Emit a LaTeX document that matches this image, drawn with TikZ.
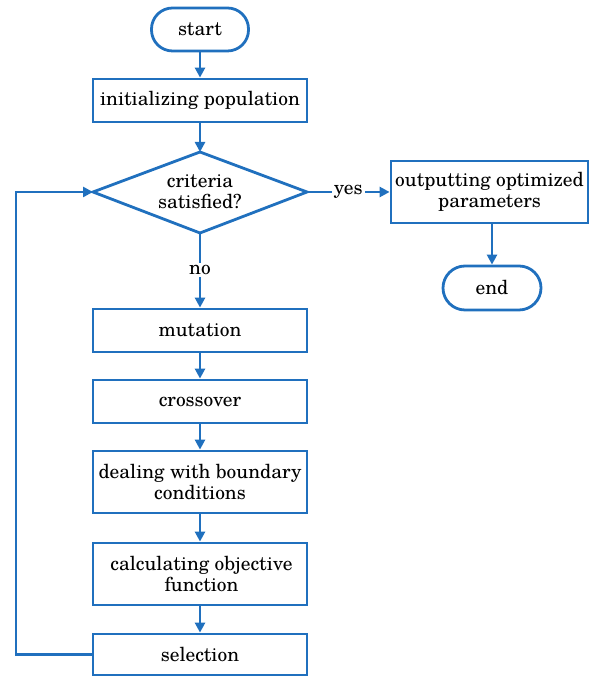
\documentclass[tikz,border=0pt]{standalone}
\usepackage{fontspec}
\setmainfont{TeX Gyre Schola}
\usetikzlibrary{arrows.meta}
\definecolor{lineblue}{RGB}{32,112,190}
\begin{document}
\begin{tikzpicture}[x=1pt,y=1pt,
  every node/.style={font=\fontsize{19.4}{21}\selectfont, text=black, align=center, inner sep=0pt},
  box/.style={draw=lineblue, line width=2.8pt, rectangle, minimum width=214pt},
  pill/.style={draw=lineblue, line width=2.8pt, rectangle, rounded corners=21pt, minimum height=43pt},
  decision/.style={draw=lineblue, line width=2.8pt, line join=miter},
  conn/.style={draw=lineblue, line width=2.8pt, line join=miter, -{Triangle[length=10pt,width=10pt]}},
  lbl/.style={fill=white, inner sep=2pt}]
\useasboundingbox (0,0) rectangle (595,676);
% nodes (y = 676 - pixel y)
\node[pill, minimum width=97pt] (start) at (200,646.5) {start};
\node[box, minimum height=43pt] (init) at (200,575.5) {initializing population};
% diamond as coordinates
\coordinate (dt) at (200,524);
\coordinate (db) at (200,443);
\coordinate (dl) at (93,484);
\coordinate (dr) at (307,484);
\draw[decision] (dt) -- (dr) -- (db) -- (dl) -- cycle;
\node (crit) at (200,484) {criteria\\satisfied?};
\node[box, minimum width=197pt, minimum height=62pt] (out) at (489.5,484) {outputting optimized\\parameters};
\node[pill, minimum width=98pt, minimum height=44pt, rounded corners=22pt] (end) at (492,388) {end};
\node[box, minimum height=43pt] (mut) at (200,345.5) {mutation};
\node[box, minimum height=43pt] (cross) at (200,274.5) {crossover};
\node[box, minimum height=62pt] (deal) at (200,194) {dealing with boundary\\conditions};
\node[box, minimum height=62pt] (calc) at (200,102) {\hspace*{3pt}calculating objective\\\hspace*{3pt}function};
\node[box, minimum height=41pt] (sel) at (200,21.5) {selection};
\coordinate (loopb) at (16,21.5);
\coordinate (loopt) at (16,484);
% connectors
\draw[conn] (start) -- (init);
\draw[conn] (init) -- (dt);
\draw[conn] (dr) -- node[lbl] {yes} (out.west);
\draw[conn] (out.south -| end.north) -- (end.north);
\draw[conn] (db) -- node[lbl] {no} (mut);
\draw[conn] (mut) -- (cross);
\draw[conn] (cross) -- (deal);
\draw[conn] (deal) -- (calc);
\draw[conn] (calc) -- (sel);
\draw[conn] (sel.west) -- (loopb) -- (loopt) -- (dl);
\end{tikzpicture}
\end{document}
